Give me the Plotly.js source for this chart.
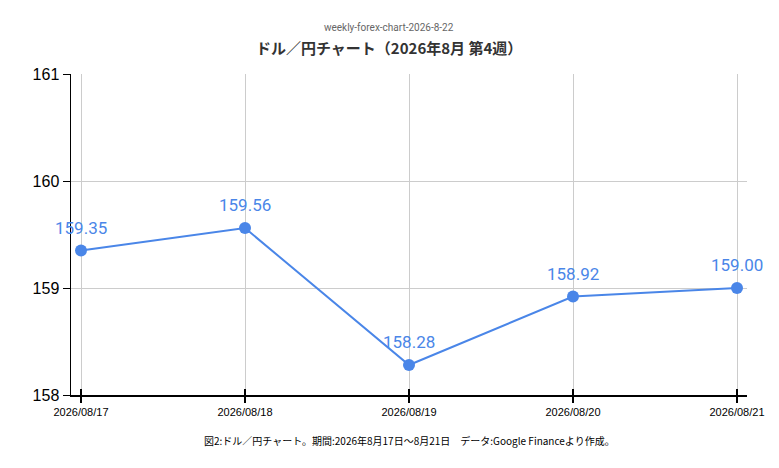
<!DOCTYPE html>
<html>
<head>
<meta charset="utf-8">
<script src="https://cdn.plot.ly/plotly-3.0.1.min.js"></script>
<style>
  html, body { margin: 0; padding: 0; background: #fff; }
  #chart { width: 779px; height: 468px; }
</style>
</head>
<body>
<div id="chart"></div>
<script>
// ドル円 週足データ (2026年8月第4週)
var dates = ["2026/08/17", "2026/08/18", "2026/08/19", "2026/08/20", "2026/08/21"];
var rates = [159.35, 159.56, 158.28, 158.92, 159.00];
var yTicks = [158, 159, 160, 161];

var lineColor = "#4a86e8";

var data = [{
    type: "scatter",
    mode: "lines+markers",
    x: dates,
    y: rates,
    line: { color: lineColor, width: 2 },
    marker: { color: lineColor, size: 12 },
    cliponaxis: false,
    hoverinfo: "x+y",
    showlegend: false
}, {
    // 目盛りを軸の内側にも出すためのダミー
    type: "scatter",
    mode: "none",
    x: dates,
    y: rates,
    xaxis: "x2",
    hoverinfo: "skip",
    showlegend: false
}];

// 値ラベル（点の少し上）
var valueLabels = dates.map(function (d, i) {
    return {
        x: d,
        y: rates[i],
        text: rates[i].toFixed(2),
        showarrow: false,
        xanchor: "center",
        yanchor: "middle",
        yshift: 23,
        font: { family: "Roboto, Arial, sans-serif", size: 17, color: lineColor }
    };
});

var layout = {
    width: 779,
    height: 468,
    margin: { l: 71, r: 32, t: 74, b: 73 },
    paper_bgcolor: "#fff",
    plot_bgcolor: "#fff",
    font: { family: "Liberation Sans, Arial, sans-serif", color: "#000" },
    xaxis: {
        type: "category",
        range: [-0.061, 4.061],
        showgrid: true,
        gridcolor: "#cccccc",
        gridwidth: 1,
        showline: true,
        linecolor: "#000",
        linewidth: 1.5,
        ticks: "outside",
        ticklen: 6,
        tickwidth: 2,
        tickcolor: "#000",
        tickfont: { size: 11, family: "Liberation Sans, Arial, sans-serif", color: "#000" },
        zeroline: false,
        fixedrange: true
    },
    xaxis2: {
        type: "category",
        overlaying: "x",
        anchor: "y",
        side: "bottom",
        range: [-0.061, 4.061],
        showgrid: false,
        showline: false,
        ticks: "inside",
        ticklen: 6,
        tickwidth: 2,
        tickcolor: "#000",
        showticklabels: false,
        zeroline: false,
        fixedrange: true
    },
    yaxis: {
        range: [158, 161],
        tickvals: yTicks,
        ticktext: yTicks.map(String),
        showgrid: true,
        gridcolor: "#cccccc",
        gridwidth: 1,
        showline: true,
        linecolor: "#000",
        linewidth: 1.5,
        ticks: "outside",
        ticklen: 7,
        tickwidth: 1,
        tickcolor: "#000",
        tickfont: { size: 16, family: "Liberation Sans, Arial, sans-serif", color: "#000" },
        zeroline: false,
        fixedrange: true
    },
    annotations: valueLabels.concat([{
        text: "weekly-forex-chart-2026-8-22",
        xref: "paper", yref: "paper",
        x: 0.471, y: 1, yshift: 47,
        xanchor: "center", yanchor: "middle",
        showarrow: false,
        font: { family: "Roboto, Arial, sans-serif", size: 10, color: "#666" }
    }, {
        text: "<b>ドル／円チャート（2026年8月 第4週）</b>",
        xref: "paper", yref: "paper",
        x: 0.471, y: 1, yshift: 27,
        xanchor: "center", yanchor: "middle",
        showarrow: false,
        font: { family: "Noto Sans CJK JP, sans-serif", size: 15, color: "#333" }
    }, {
        text: "図2:ドル／円チャート。期間:2026年8月17日〜8月21日　データ:Google Financeより作成。",
        xref: "paper", yref: "paper",
        x: 0.5, y: 0, yshift: -45,
        xanchor: "center", yanchor: "middle",
        showarrow: false,
        font: { family: "Noto Sans CJK JP, sans-serif", size: 10, color: "#000" }
    }])
};

Plotly.newPlot("chart", data, layout, { displayModeBar: false, staticPlot: true });
</script>
</body>
</html>
